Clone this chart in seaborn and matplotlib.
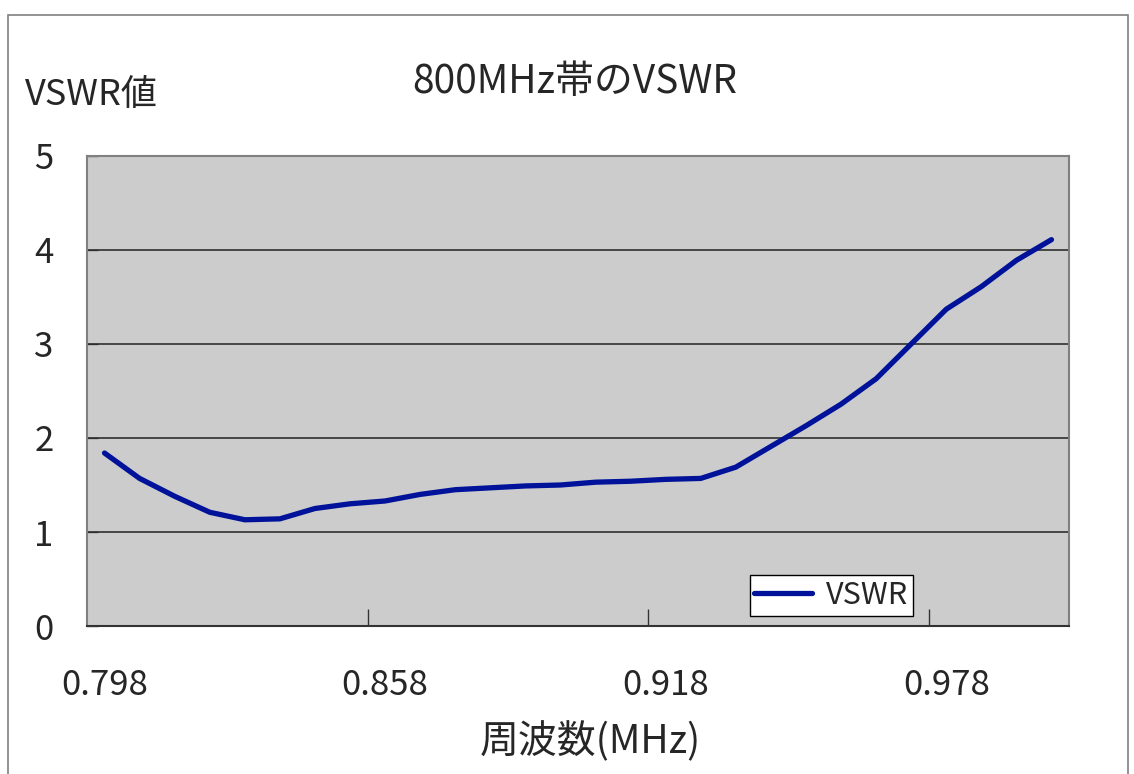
import numpy as np
import pandas as pd
import matplotlib
matplotlib.use("Agg")
import matplotlib.pyplot as plt
import seaborn as sns
from matplotlib.patches import Rectangle

# frequency categories (MHz label values), 28 points, step 0.0075
freq = [round(0.798 + 0.0075 * i, 4) for i in range(28)]
vswr = [1.84, 1.57, 1.38, 1.21, 1.13, 1.14, 1.25, 1.30, 1.33, 1.40,
        1.45, 1.47, 1.49, 1.50, 1.53, 1.54, 1.56, 1.57, 1.69, 1.91,
        2.13, 2.36, 2.63, 3.00, 3.37, 3.61, 3.89, 4.11]
tick_labels = ["0.798", "0.858", "0.918", "0.978"]
label_pos = [0, 8, 16, 24]

df = pd.DataFrame({"idx": np.arange(len(freq)), "freq": freq, "VSWR": vswr})

sns.set_style("white")
plt.rcParams['font.family'] = ['Noto Sans CJK JP', 'DejaVu Sans']

fig = plt.figure(figsize=(11.34, 7.74), dpi=100)
# outer chart border
fig.patches.append(Rectangle((8 / 1134, -0.05), 1120 / 1134, 1 - 15 / 774 + 0.05,
                             transform=fig.transFigure, fill=False,
                             edgecolor="#808080", lw=1.2))

ax = fig.add_axes([87 / 1134, 148 / 774, 982 / 1134, 470 / 774])
ax.set_facecolor("#cccccc")

for v in [1, 2, 3, 4]:
    ax.axhline(v, color="#222222", lw=1.1, zorder=1)

sns.lineplot(data=df, x="idx", y="VSWR", ax=ax, color="#00129A", lw=3.8,
             label="VSWR", zorder=3)

ax.set_xlim(-0.5, len(freq) - 0.5)
ax.set_ylim(0, 5)
ax.set_yticks([0, 1, 2, 3, 4, 5])
ax.set_yticklabels(["0", "1", "2", "3", "4", "5"])
ax.tick_params(axis="y", direction="in", length=8, width=1, color="#555555",
               labelsize=25, pad=24, left=True)

# tick marks between categories, labels on categories
ax.set_xticks([7.5, 15.5, 23.5])
ax.set_xticklabels([])
ax.set_xticks(label_pos, minor=True)
ax.set_xticklabels(tick_labels, minor=True)
ax.tick_params(axis="x", which="major", direction="in", length=12, width=1,
               color="#333333", bottom=True)
ax.tick_params(axis="x", which="minor", length=0, labelsize=25, pad=30)

for s in ax.spines.values():
    s.set_color("#808080")
    s.set_linewidth(1.5)
ax.spines["bottom"].set_color("#333333")
ax.set_xlabel("")
ax.set_ylabel("")

leg = ax.legend(loc="lower left", bbox_to_anchor=(0.675, 0.022), fontsize=22,
                frameon=True, fancybox=False, framealpha=1, edgecolor="black",
                handlelength=1.9, borderpad=0.15, handletextpad=0.45,
                borderaxespad=0)
leg.get_frame().set_linewidth(1.0)

fig.text(575 / 1134, 1 - 82 / 774, "800MHz帯のVSWR", ha="center", va="center",
         fontsize=28)
fig.text(25 / 1134, 1 - 95 / 774, "VSWR値", ha="left", va="center", fontsize=26)
fig.text(590 / 1134, 1 - 742 / 774, "周波数(MHz)", ha="center", va="center",
         fontsize=28)

fig.savefig("out.png", dpi=100)
